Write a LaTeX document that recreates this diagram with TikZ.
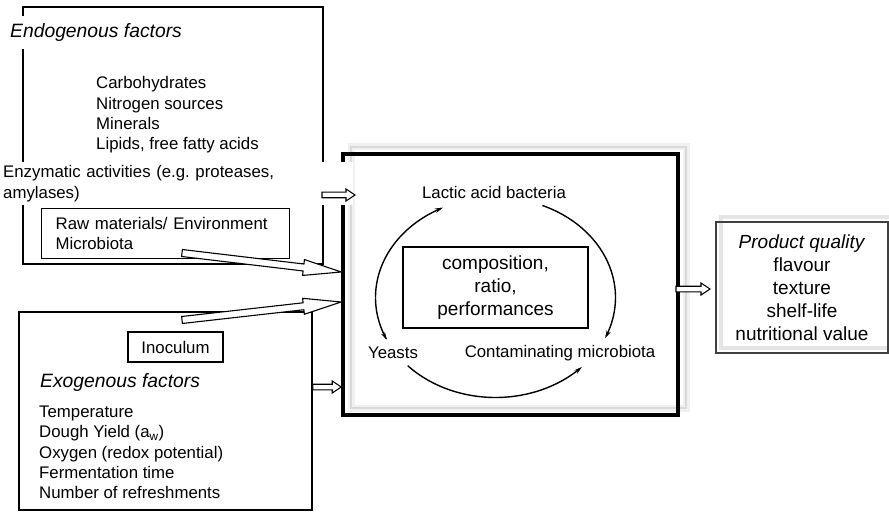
\documentclass[tikz,border=0pt]{standalone}
\usepackage{fontspec}
\setmainfont{Liberation Sans}
\usepackage{tikz}
\usetikzlibrary{arrows.meta,calc,positioning}
\frenchspacing
\tikzstyle{frame}=[draw, line width=1.8pt, inner sep=0pt]
\tikzstyle{thinframe}=[draw, line width=1.3pt, inner sep=0pt]
\tikzstyle{txt}=[inner sep=0pt, align=left, font=\fontsize{16.8}{20.3}\selectfont]
\tikzstyle{bigtxt}=[inner sep=0pt, align=center, font=\fontsize{19}{23}\selectfont]
\tikzstyle{head}=[inner sep=0pt, font=\fontsize{19.3}{23}\selectfont\itshape]
\tikzstyle{cyc}=[line width=1.4pt, -{Stealth[length=8pt,width=4.5pt]}, smooth, samples=40, variable=\t]
\tikzstyle{hollow}=[draw, fill=white, line width=1.1pt, line join=miter]
% #1 tail, #2 tip, #3 half shaft, #4 half head, #5 head length
\newcommand{\hollowarrow}[5]{
 \coordinate (hb) at ($#2!#5!#1$);
 \draw[hollow] ($#1!#3!90:#2$) -- ($(hb)!#3!90:#2$) -- ($(hb)!#4!90:#2$) -- #2
  -- ($(hb)!#4!-90:#2$) -- ($(hb)!#3!-90:#2$) -- ($#1!#3!-90:#2$) -- cycle;
}
\begin{document}
\begin{tikzpicture}[x=1pt, y=-1pt]
 \useasboundingbox (0,0) rectangle (889,513);
%
 \node[frame, minimum width=300, minimum height=257] (endobox) at (173,135.5) {};
 \node[head, fill=white, minimum height=33, anchor=west] (endohead) at (10,32.5) {Endogenous factors};
 \node[txt, anchor=west] (endolist) at (96,115) {Carbohydrates\\Nitrogen sources\\Minerals\\Lipids, free fatty acids};
 \node[thinframe, txt, anchor=north west, minimum width=248, minimum height=50, inner xsep=14, text width=220]
  (rawbox) at (41,208) {Raw materials/ Environment\\Microbiota};
%
 \node[frame, minimum width=293, minimum height=198] (exobox) at (165.5,411) {};
 \node[thinframe, txt, minimum width=95, minimum height=30] (inoc) at (175.5,347) {Inoculum};
 \node[head, anchor=west] (exohead) at (40,383) {Exogenous factors};
 \node[txt, anchor=west] (exolist) at (39,452.5) {Temperature\\Dough Yield (a\textsubscript{w})\\Oxygen (redox potential)\\Fermentation time\\Number of refreshments};
%
 \draw[gray!12, line width=7pt] (351,147) rectangle (686,408);
 \draw[gray!30, line width=2.5pt] (351,147) rectangle (686,408);
 \node[draw, line width=3.5pt, inner sep=0pt, minimum width=335, minimum height=261] (cyclebox) at (510.5,284.5) {};
 \node[txt, fill=white, anchor=north west, inner xsep=3, inner ysep=0, text width=347, minimum height=43]
  (enz) at (0,162) {Enzymatic activities (e.g. proteases,\\amylases)};
%
 \node[thinframe, bigtxt, minimum width=185, minimum height=81] (comp) at (495.5,287.5) {composition,\\ratio,\\performances};
 \node[txt] (lab) at (494,192) {Lactic acid bacteria};
 \node[txt] (yeast) at (393,353) {Yeasts};
 \node[txt] (contam) at (560,353) {Contaminating microbiota};
 \draw[cyc, domain=180:116] plot ({495.5+120*cos(\t)}, {297.5-100*sin(\t)});
 \draw[cyc, domain=180:205] plot ({495.5+120*cos(\t)}, {297.5-100*sin(\t)});
 \draw[cyc, domain=67:-24] plot ({495.5+120*cos(\t)}, {297.5-100*sin(\t)});
 \draw[cyc, domain=223:316] plot ({495.5+120*cos(\t)}, {297.5-100*sin(\t)});
%
 \draw[gray!20, line width=4pt] (721,217) rectangle (893,348);
 \node[draw=black!75, line width=1.4pt, inner sep=0pt, bigtxt, minimum width=172, minimum height=131]
  (prod) at (802,287.5) {\textit{Product quality}\\flavour\\texture\\shelf-life\\nutritional value};
%
 \coordinate (enz-a) at (322,195);
 \coordinate (enz-b) at (355,195);
 \coordinate (raw-a) at (182,253);
 \coordinate (raw-b) at (cyclebox.west |- 0,272);
 \coordinate (ino-a) at (182,320);
 \coordinate (ino-b) at (cyclebox.west |- 0,302);
 \coordinate (exo-a) at (exobox.east |- 0,387);
 \coordinate (exo-b) at (cyclebox.west |- 0,387);
 \coordinate (prod-a) at (676,289);
 \coordinate (prod-b) at (710,289);
 \hollowarrow{(enz-a)}{(enz-b)}{2.8pt}{6pt}{9pt}
 \hollowarrow{(raw-a)}{(raw-b)}{3.5pt}{8pt}{38pt}
 \hollowarrow{(ino-a)}{(ino-b)}{3.5pt}{8pt}{38pt}
 \hollowarrow{(exo-a)}{(exo-b)}{2.8pt}{6pt}{9pt}
 \hollowarrow{(prod-a)}{(prod-b)}{2.8pt}{6pt}{9pt}
\end{tikzpicture}
\end{document}
